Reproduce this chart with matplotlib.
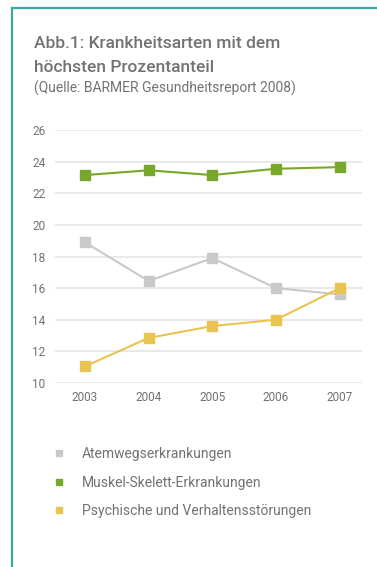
import matplotlib
matplotlib.use("Agg")
import matplotlib.pyplot as plt
from matplotlib.lines import Line2D

plt.rcParams["font.family"] = ["Roboto", "DejaVu Sans"]

years = ["2003", "2004", "2005", "2006", "2007"]
atemwege = [18.9, 16.45, 17.9, 16.0, 15.6]
muskel = [23.15, 23.45, 23.15, 23.55, 23.65]
psychische = [11.05, 12.85, 13.6, 14.0, 16.0]

series_labels = [
    "Atemwegserkrankungen",
    "Muskel-Skelett-Erkrankungen",
    "Psychische und Verhaltensstörungen",
]
series_colors = ["#c9c9cb", "#78a82a", "#e9c450"]

W, H = 377, 567
text_color = "#727272"
teal = "#3fa7a3"

fig = plt.figure(figsize=(W / 100, H / 100), dpi=100)
fig.patch.set_facecolor("white")

# frame lines (top and left only)
fig.add_artist(Line2D([12 / W, 1], [1 - 8 / H, 1 - 8 / H], color=teal, lw=1.6))
fig.add_artist(Line2D([12 / W, 12 / W], [0, 1 - 8 / H], color=teal, lw=1.6))

# titles
fig.text(34 / W, 1 - 43 / H, "Abb.1: Krankheitsarten mit dem", fontsize=12.5,
         fontweight="medium", color=text_color, va="center", ha="left")
fig.text(34 / W, 1 - 67 / H, "höchsten Prozentanteil", fontsize=12.5,
         fontweight="medium", color=text_color, va="center", ha="left")
fig.text(34 / W, 1 - 88 / H, "(Quelle: BARMER Gesundheitsreport 2008)", fontsize=10,
         color=text_color, va="center", ha="left")

# plot area
ax = fig.add_axes([55 / W, 1 - 383 / H, 307 / W, 253 / H])
x = list(range(len(years)))
for vals, col in zip([atemwege, muskel, psychische], series_colors):
    ax.plot(x, vals, color=col, lw=1.5, marker="s", markersize=6.8,
            markeredgecolor=col, markerfacecolor=col, zorder=3)

ax.set_ylim(10, 26)
ax.set_xlim(-0.47, 4.35)
ax.set_yticks(range(10, 27, 2))
ax.set_xticks(x)
ax.set_xticklabels(years)
ax.tick_params(axis="both", length=0, labelsize=8.5, colors=text_color)
ax.tick_params(axis="y", pad=7)
ax.tick_params(axis="x", pad=6)
ax.grid(axis="y", color="#e7e7e7", lw=1.3)
ax.set_axisbelow(True)
for s in ax.spines.values():
    s.set_visible(False)

# legend
handles = [Line2D([], [], ls="none", marker="s", markersize=4.5,
                  markerfacecolor=c, markeredgecolor=c) for c in series_colors]
fig.legend(handles, series_labels, loc="upper left",
           bbox_to_anchor=(45 / W, 1 - 440 / H), frameon=False,
           fontsize=10, labelcolor=text_color, handlelength=1.0,
           handletextpad=1.15, labelspacing=1.05, borderpad=0)

fig.savefig("out.png", dpi=100, facecolor="white")
